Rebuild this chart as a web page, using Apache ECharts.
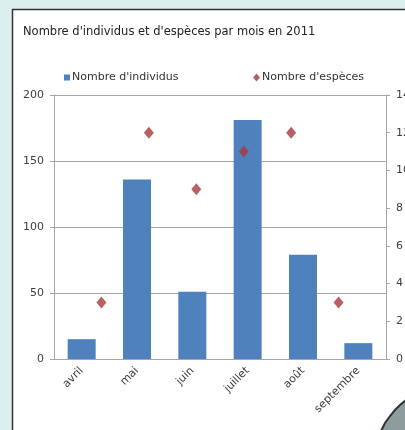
<!DOCTYPE html>
<html>
<head>
<meta charset="utf-8">
<script src="https://cdn.jsdelivr.net/npm/echarts@6/dist/echarts.min.js"></script>
<style>
  html, body { margin: 0; padding: 0; background: #dcefef; }
  #chart { width: 405px; height: 430px; }
</style>
</head>
<body>
<div id="chart"></div>
<script>
// données
const mois = ['avril', 'mai', 'juin', 'juillet', 'août', 'septembre']
const individus = [15, 136, 51, 181, 79, 12]
const especes = [3, 12, 9, 11, 12, 3]
const ticksGauche = [0, 50, 100, 150, 200]
const ticksDroite = [0, 2, 4, 6, 8, 10, 12, 14]

const chart = echarts.init(document.getElementById('chart'))

const font = 'DejaVu Sans, sans-serif'
const axisColor = '#a6a6a6'
const labelColor = '#404040'

// excel place les points sur un axe secondaire 0..n+1
const pointsEspeces = especes.map((v, i) => [i + 1, v])

const option = {
  backgroundColor: '#dcefef',
  textStyle: { fontFamily: font },
  graphic: [
    {
      type: 'rect',
      z: -10,
      shape: { x: 12.5, y: 9.5, width: 420, height: 440 },
      style: { fill: '#fff', stroke: '#333', lineWidth: 1.5 }
    },
    {
      // coin de page corné
      type: 'polygon',
      z: 100,
      shape: {
        points: [[381, 431], [385, 423], [390, 416], [395, 410], [400, 405], [406, 400], [406, 431]]
      },
      style: { fill: '#8e9c9c', stroke: '#2e3434', lineWidth: 2 }
    }
  ],
  title: {
    text: "Nombre d'individus et d'espèces par mois en 2011",
    left: 18,
    top: 21,
    textStyle: { fontSize: 11.5, fontWeight: 'normal', color: '#222', fontFamily: font }
  },
  legend: [
    {
      left: 59,
      top: 67,
      itemWidth: 6,
      itemHeight: 6,
      textStyle: { fontSize: 11, color: '#333', padding: [0, 0, 0, -3] },
      data: [{ name: "Nombre d'individus", icon: 'rect' }]
    },
    {
      left: 248,
      top: 67,
      itemWidth: 7,
      itemHeight: 8,
      textStyle: { fontSize: 11, color: '#333', padding: [0, 0, 0, -3] },
      data: [{ name: "Nombre d'espèces", icon: 'diamond' }]
    }
  ],
  grid: { left: 54, right: 19, top: 95, bottom: 71, outerBoundsMode: 'none' },
  xAxis: [
    {
      type: 'category',
      data: mois,
      axisLine: { lineStyle: { color: axisColor } },
      axisTick: { length: 4, lineStyle: { color: axisColor } },
      axisLabel: { interval: 0, rotate: 45, fontSize: 11, color: labelColor, margin: 10 }
    },
    {
      type: 'value',
      min: 0,
      max: mois.length + 1,
      show: false
    }
  ],
  yAxis: [
    {
      type: 'value',
      min: ticksGauche[0],
      max: ticksGauche[ticksGauche.length - 1],
      interval: 50,
      axisLine: { show: true, lineStyle: { color: axisColor } },
      axisTick: { show: true, length: 4, lineStyle: { color: axisColor } },
      splitLine: { lineStyle: { color: axisColor } },
      axisLabel: { fontSize: 11, color: labelColor, margin: 10 }
    },
    {
      type: 'value',
      min: ticksDroite[0],
      max: ticksDroite[ticksDroite.length - 1],
      interval: 2,
      axisLine: { show: true, lineStyle: { color: axisColor } },
      axisTick: { show: true, length: 4, lineStyle: { color: axisColor } },
      splitLine: { show: false },
      axisLabel: { fontSize: 11, color: labelColor, margin: 10 }
    }
  ],
  series: [
    {
      name: "Nombre d'individus",
      type: 'bar',
      barWidth: 28,
      itemStyle: { color: '#4f81bd' },
      data: individus
    },
    {
      name: "Nombre d'espèces",
      type: 'scatter',
      xAxisIndex: 1,
      yAxisIndex: 1,
      symbol: 'diamond',
      symbolSize: [10, 12],
      itemStyle: { color: '#a8383b' },
      data: pointsEspeces
    }
  ]
}

chart.setOption(option)
</script>
</body>
</html>
